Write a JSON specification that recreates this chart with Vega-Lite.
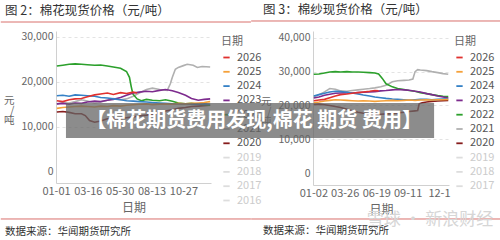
{
"$schema": "https://vega.github.io/schema/vega-lite/v6.json",
"background": "white",
"padding": {"left": 0, "top": 3, "right": 0, "bottom": 0},
"bounds": "flush",
"spacing": 102,
"config": {
  "font": "Noto Sans CJK SC",
  "view": {"stroke": null},
  "axis": {"labelOverlap": false, "labelSeparation": 0},
  "title": {"fontWeight": "normal", "color": "#333333", "fontSize": 12.5, "anchor": "start", "frame": "group", "offset": 4},
  "legend": {"orient": "right", "offset": 2, "padding": 5, "symbolType": "stroke", "symbolSize": 40, "symbolStrokeWidth": 1.8, "labelFontSize": 11, "labelColor": "#555555", "titleFontSize": 11, "titleFontWeight": "normal", "titleColor": "#666666", "rowPadding": 2.3, "labelOffset": 5, "titlePadding": 5}
},
"datasets": {
"cotton": [
{"d":"2000-01-03","s":"2020","v":13300},{"d":"2000-01-17","s":"2020","v":13400},{"d":"2000-02-01","s":"2020","v":13200},{"d":"2000-02-15","s":"2020","v":12900},{"d":"2000-03-01","s":"2020","v":12900},{"d":"2000-03-10","s":"2020","v":12500},{"d":"2000-03-20","s":"2020","v":11400},{"d":"2000-04-01","s":"2020","v":11000},{"d":"2000-04-15","s":"2020","v":11300},{"d":"2000-05-01","s":"2020","v":11800},{"d":"2000-05-15","s":"2020","v":11900},{"d":"2000-06-01","s":"2020","v":11800},{"d":"2000-06-15","s":"2020","v":12000},{"d":"2000-07-01","s":"2020","v":12200},{"d":"2000-07-15","s":"2020","v":12400},{"d":"2000-08-01","s":"2020","v":12600},{"d":"2000-08-15","s":"2020","v":12800},{"d":"2000-09-01","s":"2020","v":13200},{"d":"2000-09-15","s":"2020","v":13500},{"d":"2000-10-01","s":"2020","v":13800},{"d":"2000-10-15","s":"2020","v":14100},{"d":"2000-11-01","s":"2020","v":14300},{"d":"2000-11-15","s":"2020","v":14500},{"d":"2000-12-01","s":"2020","v":14600},{"d":"2000-12-15","s":"2020","v":14700},{"d":"2000-12-29","s":"2020","v":14800},
{"d":"2000-01-03","s":"2021","v":15000},{"d":"2000-01-17","s":"2021","v":15400},{"d":"2000-02-01","s":"2021","v":15300},{"d":"2000-02-15","s":"2021","v":15600},{"d":"2000-03-01","s":"2021","v":16000},{"d":"2000-03-15","s":"2021","v":15700},{"d":"2000-04-01","s":"2021","v":15300},{"d":"2000-04-15","s":"2021","v":15500},{"d":"2000-05-01","s":"2021","v":15900},{"d":"2000-05-15","s":"2021","v":16300},{"d":"2000-06-01","s":"2021","v":16000},{"d":"2000-06-15","s":"2021","v":16200},{"d":"2000-07-01","s":"2021","v":16800},{"d":"2000-07-15","s":"2021","v":17500},{"d":"2000-08-01","s":"2021","v":18300},{"d":"2000-08-15","s":"2021","v":18600},{"d":"2000-09-01","s":"2021","v":18300},{"d":"2000-09-19","s":"2021","v":18100},{"d":"2000-09-26","s":"2021","v":19500},{"d":"2000-10-01","s":"2021","v":21000},{"d":"2000-10-08","s":"2021","v":22800},{"d":"2000-10-15","s":"2021","v":23200},{"d":"2000-10-27","s":"2021","v":23600},{"d":"2000-11-05","s":"2021","v":23900},{"d":"2000-11-19","s":"2021","v":23700},{"d":"2000-11-29","s":"2021","v":23200},{"d":"2000-12-10","s":"2021","v":23400},{"d":"2000-12-29","s":"2021","v":23300},
{"d":"2000-01-03","s":"2022","v":23500},{"d":"2000-01-17","s":"2022","v":23700},{"d":"2000-02-01","s":"2022","v":23900},{"d":"2000-02-15","s":"2022","v":24000},{"d":"2000-03-01","s":"2022","v":23900},{"d":"2000-03-15","s":"2022","v":23800},{"d":"2000-04-01","s":"2022","v":23700},{"d":"2000-04-15","s":"2022","v":23750},{"d":"2000-05-01","s":"2022","v":23500},{"d":"2000-05-15","s":"2022","v":23300},{"d":"2000-06-01","s":"2022","v":23000},{"d":"2000-06-15","s":"2022","v":22300},{"d":"2000-06-22","s":"2022","v":21000},{"d":"2000-06-26","s":"2022","v":19000},{"d":"2000-06-30","s":"2022","v":17300},{"d":"2000-07-10","s":"2022","v":16200},{"d":"2000-07-20","s":"2022","v":15800},{"d":"2000-08-01","s":"2022","v":16100},{"d":"2000-08-15","s":"2022","v":15900},{"d":"2000-09-01","s":"2022","v":15800},{"d":"2000-09-15","s":"2022","v":16000},{"d":"2000-10-01","s":"2022","v":15700},{"d":"2000-10-15","s":"2022","v":15300},{"d":"2000-11-01","s":"2022","v":15100},{"d":"2000-11-15","s":"2022","v":15200},{"d":"2000-12-01","s":"2022","v":15000},{"d":"2000-12-15","s":"2022","v":14900},{"d":"2000-12-29","s":"2022","v":14800},
{"d":"2000-01-03","s":"2023","v":15100},{"d":"2000-01-17","s":"2023","v":15200},{"d":"2000-02-01","s":"2023","v":15000},{"d":"2000-02-15","s":"2023","v":15300},{"d":"2000-03-01","s":"2023","v":15200},{"d":"2000-03-15","s":"2023","v":15500},{"d":"2000-04-01","s":"2023","v":15700},{"d":"2000-04-15","s":"2023","v":15600},{"d":"2000-05-01","s":"2023","v":15900},{"d":"2000-05-15","s":"2023","v":16100},{"d":"2000-06-01","s":"2023","v":16500},{"d":"2000-06-15","s":"2023","v":17000},{"d":"2000-07-01","s":"2023","v":17500},{"d":"2000-07-15","s":"2023","v":17700},{"d":"2000-08-01","s":"2023","v":17900},{"d":"2000-08-15","s":"2023","v":17800},{"d":"2000-09-01","s":"2023","v":18100},{"d":"2000-09-15","s":"2023","v":18300},{"d":"2000-10-01","s":"2023","v":18000},{"d":"2000-10-15","s":"2023","v":17600},{"d":"2000-11-01","s":"2023","v":17000},{"d":"2000-11-15","s":"2023","v":16300},{"d":"2000-12-01","s":"2023","v":15900},{"d":"2000-12-15","s":"2023","v":16100},{"d":"2000-12-29","s":"2023","v":16200},
{"d":"2000-01-03","s":"2024","v":16900},{"d":"2000-01-17","s":"2024","v":17000},{"d":"2000-02-01","s":"2024","v":16800},{"d":"2000-02-15","s":"2024","v":17100},{"d":"2000-03-01","s":"2024","v":17000},{"d":"2000-03-15","s":"2024","v":16900},{"d":"2000-04-01","s":"2024","v":16800},{"d":"2000-04-15","s":"2024","v":16500},{"d":"2000-05-01","s":"2024","v":16400},{"d":"2000-05-15","s":"2024","v":16200},{"d":"2000-06-01","s":"2024","v":16000},{"d":"2000-06-15","s":"2024","v":15800},{"d":"2000-07-01","s":"2024","v":15700},{"d":"2000-07-15","s":"2024","v":15600},{"d":"2000-08-01","s":"2024","v":15500},{"d":"2000-08-15","s":"2024","v":15400},{"d":"2000-09-01","s":"2024","v":15300},{"d":"2000-09-15","s":"2024","v":15200},{"d":"2000-10-01","s":"2024","v":15100},{"d":"2000-10-15","s":"2024","v":15100},{"d":"2000-11-01","s":"2024","v":15000},{"d":"2000-11-15","s":"2024","v":15100},{"d":"2000-12-01","s":"2024","v":15000},{"d":"2000-12-15","s":"2024","v":15100},{"d":"2000-12-29","s":"2024","v":15000},
{"d":"2000-01-03","s":"2025","v":14100},{"d":"2000-01-17","s":"2025","v":14300},{"d":"2000-02-01","s":"2025","v":14400},{"d":"2000-02-15","s":"2025","v":14500},{"d":"2000-03-01","s":"2025","v":14600},{"d":"2000-03-15","s":"2025","v":14500},{"d":"2000-04-01","s":"2025","v":14400},{"d":"2000-04-15","s":"2025","v":14600},{"d":"2000-05-01","s":"2025","v":14500},{"d":"2000-05-15","s":"2025","v":14700},{"d":"2000-06-01","s":"2025","v":14600},{"d":"2000-06-15","s":"2025","v":14800},{"d":"2000-07-01","s":"2025","v":14900},{"d":"2000-07-15","s":"2025","v":15000},{"d":"2000-08-01","s":"2025","v":15100},{"d":"2000-08-15","s":"2025","v":14900},{"d":"2000-09-01","s":"2025","v":15000},{"d":"2000-09-15","s":"2025","v":15100},{"d":"2000-10-01","s":"2025","v":15000},{"d":"2000-10-15","s":"2025","v":15200},{"d":"2000-11-01","s":"2025","v":15100},{"d":"2000-11-15","s":"2025","v":15200},{"d":"2000-12-01","s":"2025","v":15300},{"d":"2000-12-15","s":"2025","v":15400},{"d":"2000-12-29","s":"2025","v":15600},
{"d":"2000-01-03","s":"2026","v":15800},{"d":"2000-01-17","s":"2026","v":15600},{"d":"2000-02-01","s":"2026","v":16000},{"d":"2000-02-15","s":"2026","v":16200},{"d":"2000-03-01","s":"2026","v":16300},{"d":"2000-03-15","s":"2026","v":16700},{"d":"2000-04-01","s":"2026","v":17100},{"d":"2000-04-15","s":"2026","v":17300},{"d":"2000-05-01","s":"2026","v":17500},{"d":"2000-05-15","s":"2026","v":17200},{"d":"2000-06-01","s":"2026","v":17600},{"d":"2000-06-15","s":"2026","v":17400},{"d":"2000-07-01","s":"2026","v":17700},{"d":"2000-07-10","s":"2026","v":17500}
],
"yarn": [
{"d":"2000-01-03","s":"2020","v":20300},{"d":"2000-01-17","s":"2020","v":20400},{"d":"2000-02-01","s":"2020","v":20200},{"d":"2000-02-15","s":"2020","v":20000},{"d":"2000-03-01","s":"2020","v":19700},{"d":"2000-03-15","s":"2020","v":19400},{"d":"2000-04-01","s":"2020","v":18900},{"d":"2000-04-15","s":"2020","v":18400},{"d":"2000-05-01","s":"2020","v":18000},{"d":"2000-05-15","s":"2020","v":17700},{"d":"2000-06-01","s":"2020","v":17500},{"d":"2000-06-15","s":"2020","v":17400},{"d":"2000-07-01","s":"2020","v":17400},{"d":"2000-07-15","s":"2020","v":17500},{"d":"2000-08-01","s":"2020","v":17600},{"d":"2000-08-15","s":"2020","v":17800},{"d":"2000-09-01","s":"2020","v":18000},{"d":"2000-09-15","s":"2020","v":18200},{"d":"2000-10-01","s":"2020","v":18400},{"d":"2000-10-08","s":"2020","v":18500},{"d":"2000-10-12","s":"2020","v":20500},{"d":"2000-10-20","s":"2020","v":20800},{"d":"2000-11-01","s":"2020","v":21000},{"d":"2000-11-15","s":"2020","v":21200},{"d":"2000-12-01","s":"2020","v":21300},{"d":"2000-12-15","s":"2020","v":21400},{"d":"2000-12-29","s":"2020","v":21500},
{"d":"2000-01-03","s":"2021","v":22500},{"d":"2000-01-17","s":"2021","v":23200},{"d":"2000-02-01","s":"2021","v":24000},{"d":"2000-02-15","s":"2021","v":25000},{"d":"2000-03-01","s":"2021","v":24800},{"d":"2000-03-15","s":"2021","v":24300},{"d":"2000-04-01","s":"2021","v":24200},{"d":"2000-04-15","s":"2021","v":24400},{"d":"2000-05-01","s":"2021","v":24600},{"d":"2000-05-15","s":"2021","v":24800},{"d":"2000-06-01","s":"2021","v":25000},{"d":"2000-06-15","s":"2021","v":25200},{"d":"2000-07-01","s":"2021","v":25500},{"d":"2000-07-15","s":"2021","v":26000},{"d":"2000-08-01","s":"2021","v":27000},{"d":"2000-08-15","s":"2021","v":27300},{"d":"2000-09-01","s":"2021","v":27400},{"d":"2000-09-15","s":"2021","v":27500},{"d":"2000-09-25","s":"2021","v":27800},{"d":"2000-10-01","s":"2021","v":30000},{"d":"2000-10-08","s":"2021","v":30600},{"d":"2000-10-15","s":"2021","v":30500},{"d":"2000-11-01","s":"2021","v":30300},{"d":"2000-11-15","s":"2021","v":30000},{"d":"2000-12-01","s":"2021","v":29700},{"d":"2000-12-15","s":"2021","v":29400},{"d":"2000-12-29","s":"2021","v":29200},
{"d":"2000-01-03","s":"2022","v":29200},{"d":"2000-01-17","s":"2022","v":29300},{"d":"2000-02-01","s":"2022","v":29600},{"d":"2000-02-15","s":"2022","v":29900},{"d":"2000-03-01","s":"2022","v":30000},{"d":"2000-03-15","s":"2022","v":29900},{"d":"2000-04-01","s":"2022","v":30000},{"d":"2000-04-15","s":"2022","v":29900},{"d":"2000-05-01","s":"2022","v":29900},{"d":"2000-05-15","s":"2022","v":29800},{"d":"2000-06-01","s":"2022","v":29700},{"d":"2000-06-15","s":"2022","v":29600},{"d":"2000-06-25","s":"2022","v":29300},{"d":"2000-07-05","s":"2022","v":28000},{"d":"2000-07-15","s":"2022","v":26400},{"d":"2000-08-01","s":"2022","v":25500},{"d":"2000-08-15","s":"2022","v":25000},{"d":"2000-09-01","s":"2022","v":24700},{"d":"2000-09-15","s":"2022","v":24400},{"d":"2000-10-01","s":"2022","v":24200},{"d":"2000-10-15","s":"2022","v":23800},{"d":"2000-11-01","s":"2022","v":23500},{"d":"2000-11-15","s":"2022","v":23200},{"d":"2000-12-01","s":"2022","v":22900},{"d":"2000-12-15","s":"2022","v":22700},{"d":"2000-12-29","s":"2022","v":22600},
{"d":"2000-01-03","s":"2023","v":22200},{"d":"2000-01-17","s":"2023","v":22500},{"d":"2000-02-01","s":"2023","v":23000},{"d":"2000-02-15","s":"2023","v":23300},{"d":"2000-03-01","s":"2023","v":23600},{"d":"2000-03-15","s":"2023","v":23700},{"d":"2000-04-01","s":"2023","v":23800},{"d":"2000-04-15","s":"2023","v":23700},{"d":"2000-05-01","s":"2023","v":23800},{"d":"2000-05-15","s":"2023","v":23900},{"d":"2000-06-01","s":"2023","v":24000},{"d":"2000-06-15","s":"2023","v":24100},{"d":"2000-07-01","s":"2023","v":24300},{"d":"2000-07-15","s":"2023","v":24400},{"d":"2000-08-01","s":"2023","v":24600},{"d":"2000-08-15","s":"2023","v":24700},{"d":"2000-09-01","s":"2023","v":24600},{"d":"2000-09-15","s":"2023","v":24500},{"d":"2000-10-01","s":"2023","v":24200},{"d":"2000-10-15","s":"2023","v":24000},{"d":"2000-11-01","s":"2023","v":23500},{"d":"2000-11-15","s":"2023","v":23200},{"d":"2000-12-01","s":"2023","v":22800},{"d":"2000-12-15","s":"2023","v":22500},{"d":"2000-12-29","s":"2023","v":22200},
{"d":"2000-01-03","s":"2024","v":22800},{"d":"2000-01-17","s":"2024","v":23200},{"d":"2000-02-01","s":"2024","v":23600},{"d":"2000-02-15","s":"2024","v":24000},{"d":"2000-03-01","s":"2024","v":24200},{"d":"2000-03-15","s":"2024","v":24100},{"d":"2000-04-01","s":"2024","v":23900},{"d":"2000-04-15","s":"2024","v":23700},{"d":"2000-05-01","s":"2024","v":23400},{"d":"2000-05-15","s":"2024","v":23100},{"d":"2000-06-01","s":"2024","v":22800},{"d":"2000-06-15","s":"2024","v":22500},{"d":"2000-07-01","s":"2024","v":22300},{"d":"2000-07-15","s":"2024","v":22100},{"d":"2000-08-01","s":"2024","v":21900},{"d":"2000-08-15","s":"2024","v":21800},{"d":"2000-09-01","s":"2024","v":21700},{"d":"2000-09-15","s":"2024","v":21600},{"d":"2000-10-01","s":"2024","v":21700},{"d":"2000-10-15","s":"2024","v":21800},{"d":"2000-11-01","s":"2024","v":21800},{"d":"2000-11-15","s":"2024","v":21700},{"d":"2000-12-01","s":"2024","v":21800},{"d":"2000-12-15","s":"2024","v":21900},{"d":"2000-12-29","s":"2024","v":22000},
{"d":"2000-01-03","s":"2025","v":20800},{"d":"2000-01-17","s":"2025","v":21000},{"d":"2000-02-01","s":"2025","v":21300},{"d":"2000-02-15","s":"2025","v":21500},{"d":"2000-03-01","s":"2025","v":21700},{"d":"2000-03-15","s":"2025","v":21600},{"d":"2000-04-01","s":"2025","v":21500},{"d":"2000-04-15","s":"2025","v":21400},{"d":"2000-05-01","s":"2025","v":21300},{"d":"2000-05-15","s":"2025","v":21400},{"d":"2000-06-01","s":"2025","v":21300},{"d":"2000-06-15","s":"2025","v":21200},{"d":"2000-07-01","s":"2025","v":21300},{"d":"2000-07-15","s":"2025","v":21400},{"d":"2000-08-01","s":"2025","v":21500},{"d":"2000-08-15","s":"2025","v":21400},{"d":"2000-09-01","s":"2025","v":21500},{"d":"2000-09-15","s":"2025","v":21600},{"d":"2000-10-01","s":"2025","v":21500},{"d":"2000-10-15","s":"2025","v":21600},{"d":"2000-11-01","s":"2025","v":21700},{"d":"2000-11-15","s":"2025","v":21600},{"d":"2000-12-01","s":"2025","v":21700},{"d":"2000-12-15","s":"2025","v":21700},{"d":"2000-12-29","s":"2025","v":21800},
{"d":"2000-01-03","s":"2026","v":21400},{"d":"2000-01-17","s":"2026","v":21600},{"d":"2000-02-01","s":"2026","v":21800},{"d":"2000-02-15","s":"2026","v":22300},{"d":"2000-03-01","s":"2026","v":22800},{"d":"2000-03-15","s":"2026","v":23200},{"d":"2000-04-01","s":"2026","v":23400},{"d":"2000-04-15","s":"2026","v":23600},{"d":"2000-05-01","s":"2026","v":23800},{"d":"2000-05-15","s":"2026","v":24000},{"d":"2000-06-01","s":"2026","v":24200},{"d":"2000-06-15","s":"2026","v":24400},{"d":"2000-06-25","s":"2026","v":24300}
]
},
"hconcat": [
{
  "width": 155, "height": 152,
  "title": {"text": "图 2：棉花现货价格（元/吨）", "dx": -51},
  "layer": [
    {
      "data": {"name": "cotton"},
      "mark": {"type": "line", "strokeWidth": 1.6},
      "encoding": {
        "x": {"field": "d", "type": "temporal",
              "scale": {"type": "utc", "domain": [{"year": 2000, "month": 1, "date": 1, "utc": true}, {"year": 2000, "month": 12, "date": 31, "utc": true}]},
              "axis": {"title": "日期", "tickCount": 20, "values": [{"year": 2000, "month": 1, "date": 1, "utc": true}, {"year": 2000, "month": 3, "date": 16, "utc": true}, {"year": 2000, "month": 5, "date": 30, "utc": true}, {"year": 2000, "month": 8, "date": 13, "utc": true}, {"year": 2000, "month": 10, "date": 27, "utc": true}],
                       "format": "%m-%d", "labelFontSize": 11, "labelColor": "#666666", "labelPadding": 2, "ticks": false, "grid": false, "domainColor": "#d0d0d0", "titleFontSize": 12, "titleColor": "#666666", "titleFontWeight": "normal", "titlePadding": 6, "labelFlush": false, "labelOverlap": false}},
        "y": {"field": "v", "type": "quantitative",
              "scale": {"domain": [-2500, 31300], "nice": false, "zero": false},
              "axis": {"title": ["元", "/", "吨"], "tickCount": 20, "titleAngle": 0, "titleAlign": "right", "titleBaseline": "middle", "titleLineHeight": 10, "titleFontSize": 10.5, "titleFontWeight": "normal", "titleColor": "#666666", "titlePadding": -13, "titleY": 69,
                       "values": [0, 10000, 20000, 30000], "format": ",d", "labelFontSize": 10.5, "labelColor": "#666666", "labelPadding": 3, "ticks": false, "domainColor": "#d0d0d0", "gridColor": "#e3e3e3", "gridDash": [3, 3],
                       "gridOpacity": {"condition": {"test": "datum.value === 0", "value": 0}, "value": 1}}},
        "color": {"field": "s", "type": "nominal",
                  "scale": {"domain": ["2026", "2025", "2024", "2023", "2022", "2021", "2020", "2019", "2018", "2017", "2016"],
                            "range": ["#e0312f", "#f5a13a", "#3581c6", "#7d2b8e", "#2ca02c", "#b0b0b0", "#861c1c", "#dddddd", "#dddddd", "#dddddd", "#dddddd"]},
                  "legend": {"title": "日期", "encode": {"labels": {"update": {"fill": {"signal": "toNumber(datum.value) <= 2019 ? '#cccccc' : '#555555'"}}}}}}
      }
    },
    {
      "data": {"values": [{}]},
      "mark": {"type": "rule", "color": "#d9706c", "strokeWidth": 1},
      "encoding": {
        "x": {"datum": {"year": 1999, "month": 8, "date": 24, "utc": true}, "type": "temporal"},
        "x2": {"datum": {"year": 2001, "month": 4, "date": 4, "utc": true}},
        "y": {"datum": 33300, "type": "quantitative"}
      }
    },
    {
      "data": {"values": [{}]},
      "mark": {"type": "rule", "color": "#d9706c", "strokeWidth": 1},
      "encoding": {
        "x": {"datum": {"year": 1999, "month": 8, "date": 24, "utc": true}, "type": "temporal"},
        "x2": {"datum": {"year": 2001, "month": 4, "date": 4, "utc": true}},
        "y": {"datum": -10500, "type": "quantitative"}
      }
    },
    {
      "data": {"values": [{}]},
      "mark": {"type": "text", "text": "数据来源：华闻期货研究所", "align": "left", "baseline": "middle", "fontSize": 10.5, "color": "#333333"},
      "encoding": {
        "x": {"datum": {"year": 1999, "month": 9, "date": 3, "utc": true}, "type": "temporal"},
        "y": {"datum": -13400, "type": "quantitative"}
      }
    }
  ]
},
{
  "width": 136, "height": 154,
  "title": {"text": "图 3：棉纱现货价格（元/吨）", "dx": -50},
  "layer": [
    {
      "data": {"name": "yarn"},
      "mark": {"type": "line", "strokeWidth": 1.6},
      "encoding": {
        "x": {"field": "d", "type": "temporal",
              "scale": {"type": "utc", "domain": [{"year": 2000, "month": 1, "date": 1, "utc": true}, {"year": 2000, "month": 12, "date": 31, "utc": true}]},
              "axis": {"title": "日期", "tickCount": 20, "values": [{"year": 2000, "month": 1, "date": 2, "utc": true}, {"year": 2000, "month": 3, "date": 26, "utc": true}, {"year": 2000, "month": 6, "date": 19, "utc": true}, {"year": 2000, "month": 9, "date": 11, "utc": true}, {"year": 2000, "month": 12, "date": 4, "utc": true}],
                       "format": "%m-%d", "labelExpr": "datum.index == 1 ? '12-1' : datum.label", "labelFontSize": 11, "labelColor": "#666666", "labelPadding": 2, "ticks": false, "grid": false, "domainColor": "#d0d0d0", "titleFontSize": 12, "titleColor": "#666666", "titleFontWeight": "normal", "titlePadding": 6, "labelFlush": false, "labelOverlap": false}},
        "y": {"field": "v", "type": "quantitative",
              "scale": {"domain": [-3500, 42000], "nice": false, "zero": false},
              "axis": {"title": ["元", "/", "吨"], "tickCount": 20, "titleAngle": 0, "titleAlign": "right", "titleBaseline": "middle", "titleLineHeight": 10, "titleFontSize": 10.5, "titleFontWeight": "normal", "titleColor": "#666666", "titlePadding": -13, "titleY": 70,
                       "values": [0, 10000, 20000, 30000, 40000], "format": ",d", "labelFontSize": 10.5, "labelColor": "#666666", "labelPadding": 3, "ticks": false, "domainColor": "#d0d0d0", "gridColor": "#e3e3e3", "gridDash": [3, 3],
                       "gridOpacity": {"condition": {"test": "datum.value === 0", "value": 0}, "value": 1}}},
        "color": {"field": "s", "type": "nominal",
                  "scale": {"domain": ["2026", "2025", "2024", "2023", "2022", "2021", "2020", "2019", "2018", "2017"],
                            "range": ["#e0312f", "#f5a13a", "#3581c6", "#7d2b8e", "#2ca02c", "#b0b0b0", "#861c1c", "#dddddd", "#dddddd", "#dddddd"]},
                  "legend": {"title": "日期", "offset": -3, "encode": {"labels": {"update": {"fill": {"signal": "toNumber(datum.value) <= 2019 ? '#cccccc' : '#555555'"}}}}}}
      }
    },
    {
      "data": {"values": [{}]},
      "mark": {"type": "rule", "color": "#d9706c", "strokeWidth": 1},
      "encoding": {
        "x": {"datum": {"year": 1999, "month": 7, "date": 19, "utc": true}, "type": "temporal"},
        "x2": {"datum": {"year": 2001, "month": 5, "date": 20, "utc": true}},
        "y": {"datum": 44955, "type": "quantitative"}
      }
    },
    {
      "data": {"values": [{}]},
      "mark": {"type": "rule", "color": "#d9706c", "strokeWidth": 1},
      "encoding": {
        "x": {"datum": {"year": 1999, "month": 7, "date": 19, "utc": true}, "type": "temporal"},
        "x2": {"datum": {"year": 2001, "month": 5, "date": 20, "utc": true}},
        "y": {"datum": -13545, "type": "quantitative"}
      }
    },
    {
      "data": {"values": [{}]},
      "mark": {"type": "text", "text": "数据来源：华闻期货研究所", "align": "left", "baseline": "middle", "fontSize": 10.5, "color": "#333333"},
      "encoding": {
        "x": {"datum": {"year": 1999, "month": 8, "date": 20, "utc": true}, "type": "temporal"},
        "y": {"datum": -17091, "type": "quantitative"}
      }
    },
    {
      "data": {"values": [{}]},
      "mark": {"type": "text", "text": "雪球 · 新浪财经", "align": "center", "baseline": "middle", "fontSize": 17, "color": "#d6d6d6"},
      "encoding": {
        "x": {"datum": {"year": 2000, "month": 11, "date": 10, "utc": true}, "type": "temporal"},
        "y": {"datum": -13841, "type": "quantitative"}
      }
    },
    {
      "data": {"values": [{}]},
      "mark": {"type": "rect", "color": "#666666", "opacity": 0.75},
      "encoding": {
        "x": {"datum": {"year": 1998, "month": 3, "date": 9, "utc": true}, "type": "temporal"},
        "x2": {"datum": {"year": 2000, "month": 11, "date": 21, "utc": true}},
        "y": {"datum": 20727, "type": "quantitative"},
        "y2": {"datum": 10386}
      }
    },
    {
      "data": {"values": [{}]},
      "mark": {"type": "text", "text": "【棉花期货费用发现,棉花 期货 费用】", "align": "center", "baseline": "middle", "fontSize": 20, "fontWeight": "bold", "color": "#ffffff"},
      "encoding": {
        "x": {"datum": {"year": 1999, "month": 7, "date": 27, "utc": true}, "type": "temporal"},
        "y": {"datum": 15413, "type": "quantitative"}
      }
    }
  ]
}
],
"resolve": {"scale": {"color": "independent", "x": "independent", "y": "independent"}, "legend": {"color": "independent"}}
}
